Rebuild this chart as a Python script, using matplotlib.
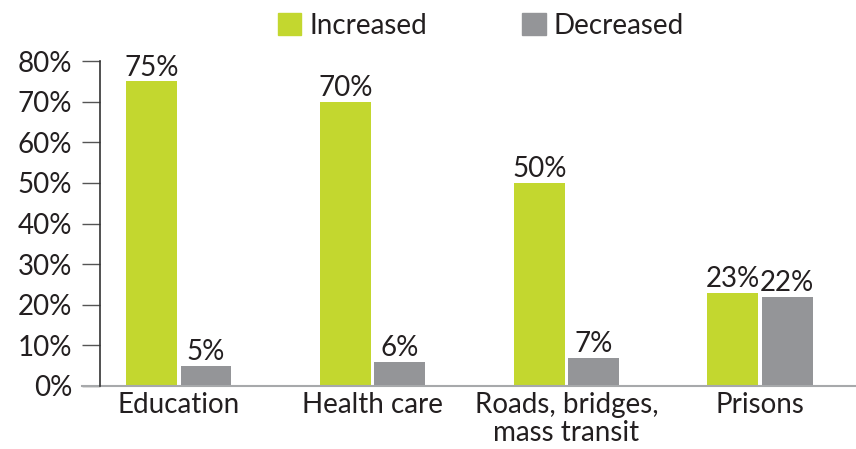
import matplotlib.pyplot as plt
from matplotlib.patches import Patch
from matplotlib.lines import Line2D
import numpy as np

categories = ['Education', 'Health care', 'Roads, bridges,\nmass transit', 'Prisons']
increased = [75, 70, 50, 23]
decreased = [5, 6, 7, 22]
series = ['Increased', 'Decreased']

green = '#c3d72f'
gray = '#949598'
txt = '#231f20'

plt.rcParams['font.family'] = ['Lato', 'DejaVu Sans']
fs = 20

fig = plt.figure(figsize=(8.56, 4.49), dpi=100)
ax = fig.add_axes([100/856, 63/449, 756/856, 325/449])

x = np.arange(len(categories))
w = 0.263
off = 0.14
b1 = ax.bar(x - off, increased, w, color=green)
b2 = ax.bar(x + off, decreased, w, color=gray)

for bars, vals in ((b1, increased), (b2, decreased)):
    for b, v in zip(bars, vals):
        ax.text(b.get_x() + b.get_width()/2, v + 0.2, str(v) + '%',
                ha='center', va='bottom', fontsize=fs, color=txt)

ax.set_xlim(-0.407, 3.495)
ax.set_ylim(0, 80)
ax.set_yticks(range(0, 81, 10))
ax.set_yticklabels([str(t) + '%' for t in range(0, 81, 10)])
ax.set_xticks(x)
ax.set_xticklabels(categories, linespacing=1.1)

ax.tick_params(axis='y', length=13, width=1, color='#555555', pad=7,
               labelsize=fs, labelcolor=txt)
ax.tick_params(axis='x', length=0, pad=4, labelsize=fs, labelcolor=txt)

for s in ('top', 'right', 'bottom'):
    ax.spines[s].set_visible(False)
ax.spines['left'].set_color('#333333')
ax.spines['left'].set_linewidth(1.2)

# baseline runs out under the tick marks
ax.add_line(Line2D([-18/756, 1], [0, 0], transform=ax.transAxes,
                   color='#a7a9ab', lw=1.5, clip_on=False))

handles = [Patch(color=green), Patch(color=gray)]
fig.legend(handles, series, loc='center', bbox_to_anchor=(481/856, 1 - 26/449),
           ncol=2, frameon=False, fontsize=fs,
           handlelength=0.85, handleheight=0.85, handletextpad=0.3,
           columnspacing=3.4, labelcolor=txt)

fig.savefig('out.png', dpi=100)
